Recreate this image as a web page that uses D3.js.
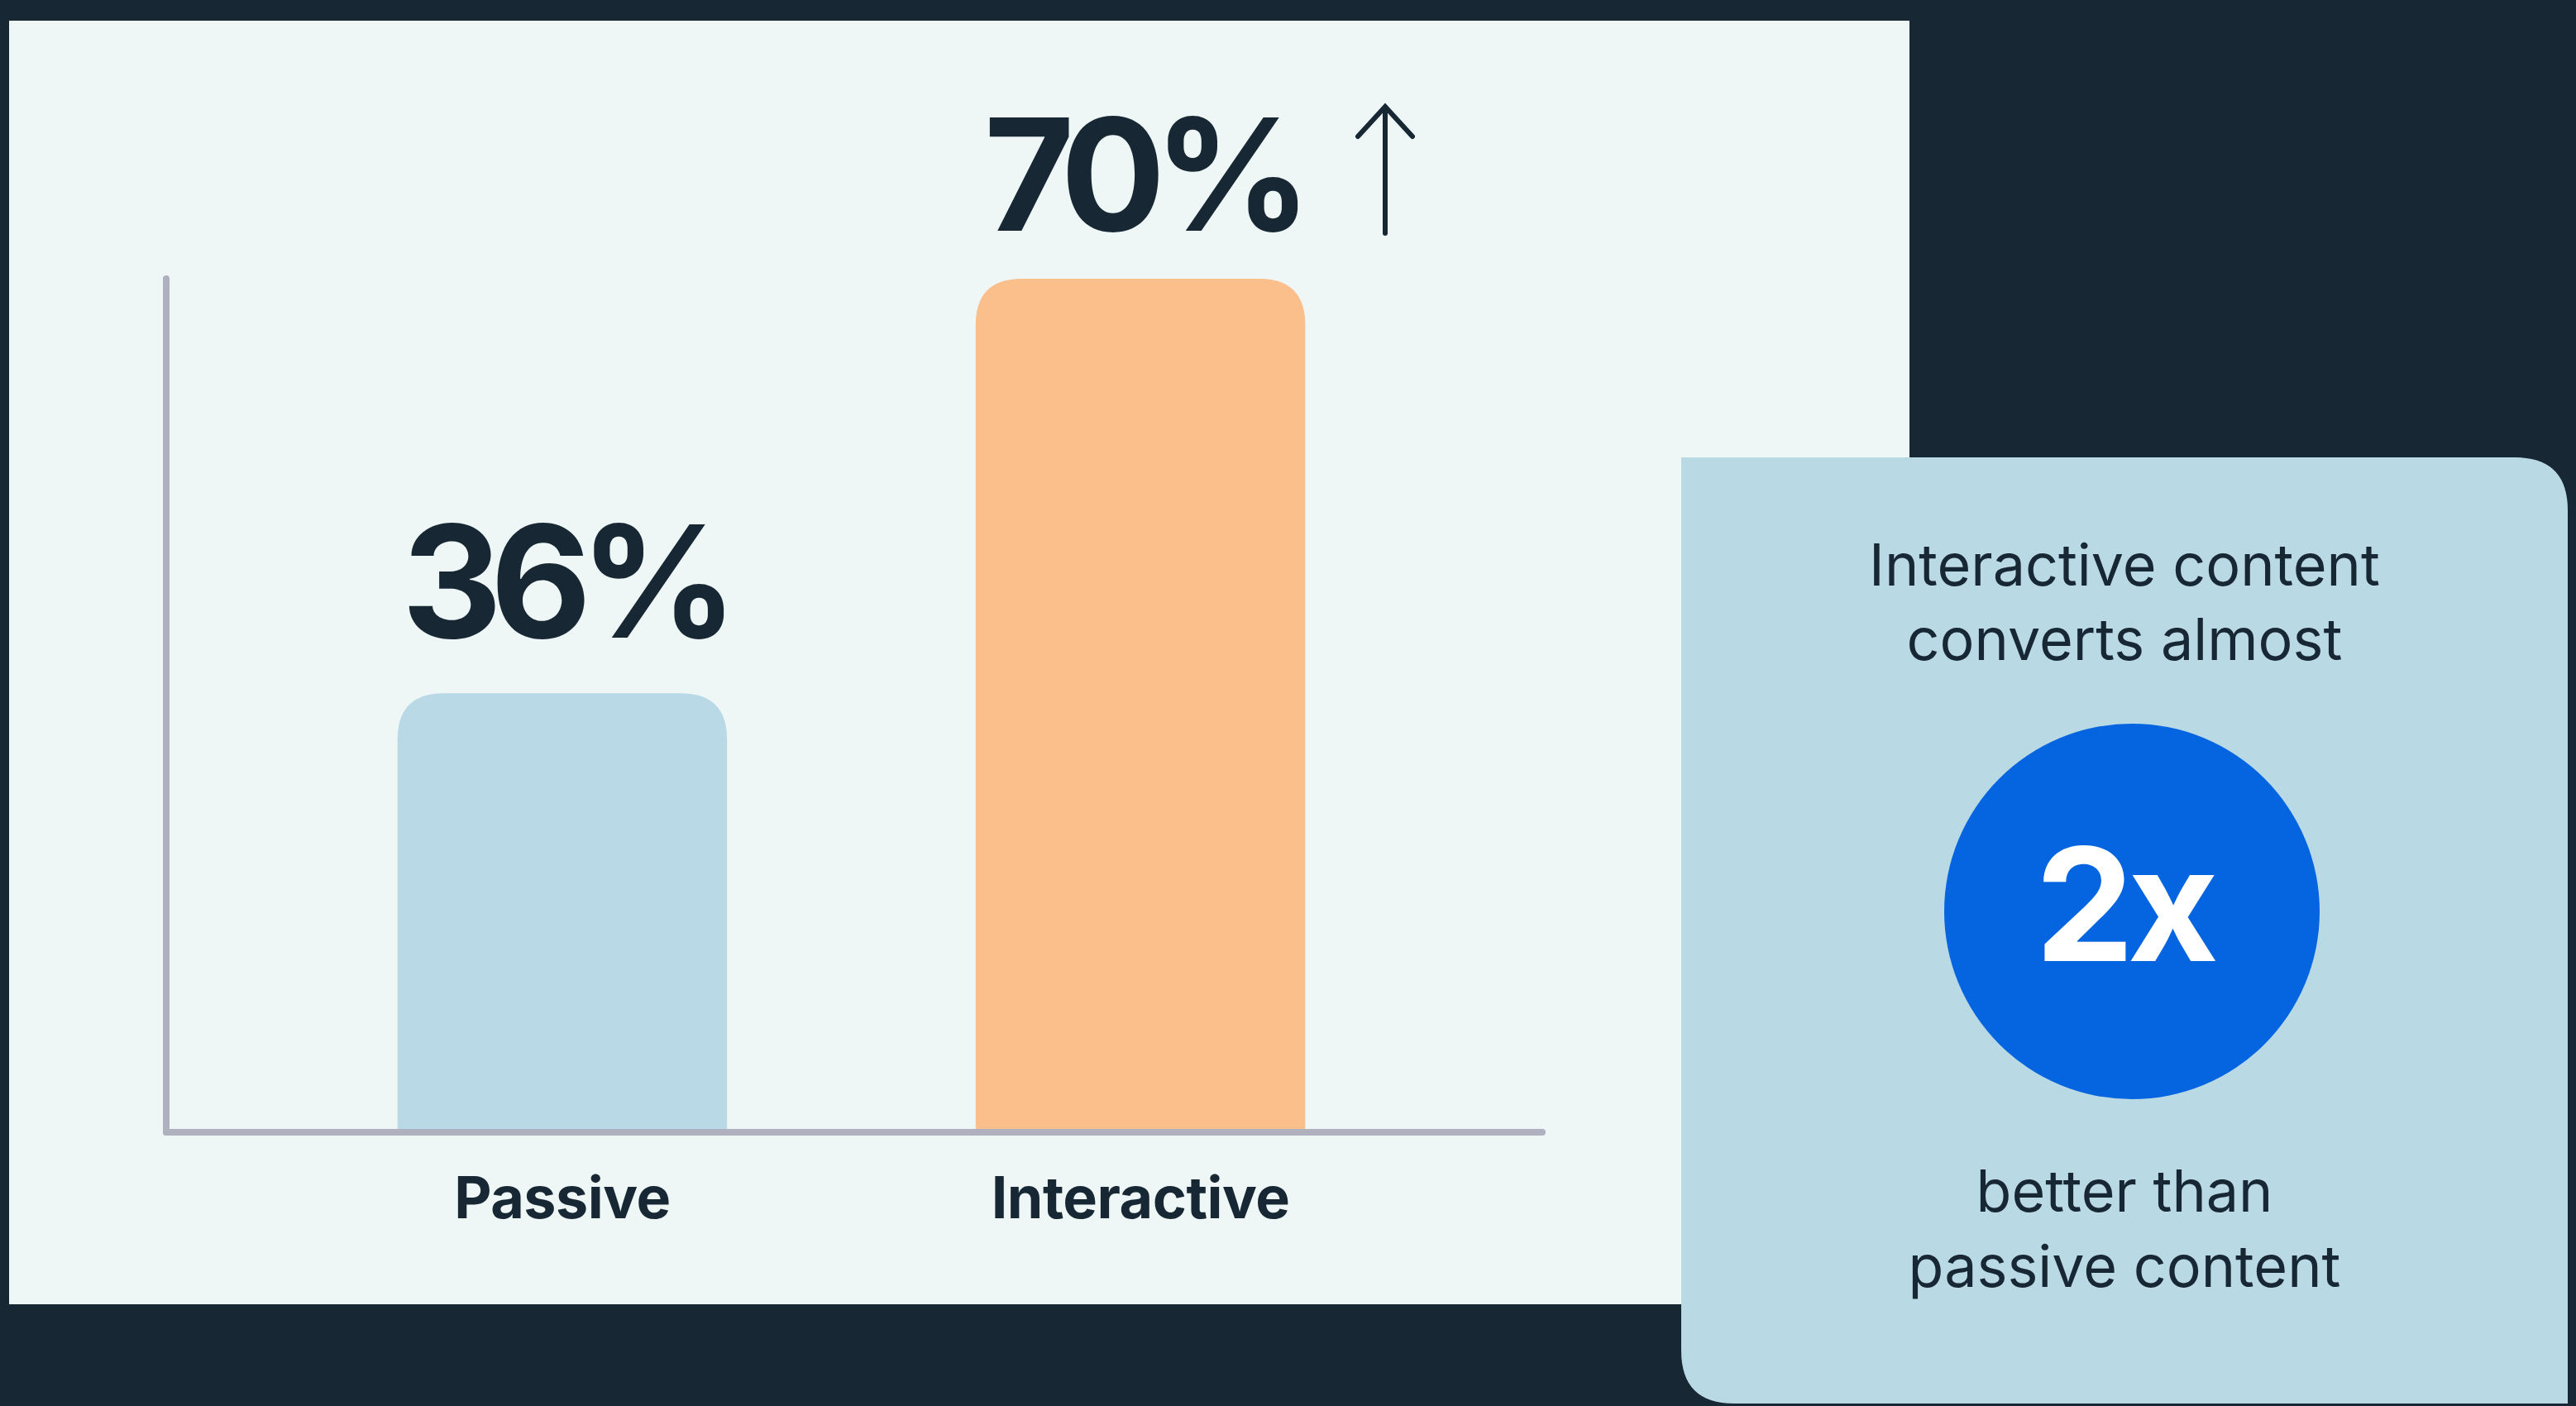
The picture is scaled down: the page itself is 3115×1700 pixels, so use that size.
<!DOCTYPE html>
<html>
<head>
<meta charset="utf-8">
<script src="https://cdn.jsdelivr.net/npm/d3@7.9.0/dist/d3.min.js"></script>
<style>
  html, body { margin: 0; padding: 0; background: #172733; }
  svg { display: block; font-family: Inter, "Noto Sans", sans-serif; }
</style>
</head>
<body>
<svg id="chart" width="3115" height="1700"></svg>
<script>
// chart data
const categories = ['Passive', 'Interactive'];
const values = [36, 70];
const barColors = ['#b9d9e6', '#fabf8b'];
const valueLabels = ['36%', '70%'];

// callout text
const calloutTop = ['Interactive content', 'converts almost'];
const calloutBig = '2x';
const calloutBottom = ['better than', 'passive content'];

const dark = '#172733';
const svg = d3.select('#chart');

// light panel behind the bars
svg.append('rect')
  .attr('x', 11).attr('y', 25)
  .attr('width', 2298).attr('height', 1552)
  .attr('fill', '#eef7f6');

// scales
const x = d3.scaleBand()
  .domain(categories)
  .range([201, 1858])
  .paddingInner(0.43)
  .paddingOuter(0.4);

const y = d3.scaleLinear()
  .domain([0, 70])
  .range([1369, 337]);

// bar with rounded top corners
function topRounded(x0, y0, w, h, r) {
  return `M${x0},${y0 + h}V${y0 + r}Q${x0},${y0} ${x0 + r},${y0}` +
    `H${x0 + w - r}Q${x0 + w},${y0} ${x0 + w},${y0 + r}V${y0 + h}Z`;
}

const bars = categories.map((c, i) => ({ cat: c, value: values[i], color: barColors[i], label: valueLabels[i] }));

svg.selectAll('path.bar')
  .data(bars)
  .join('path')
  .attr('class', 'bar')
  .attr('d', d => topRounded(x(d.cat), y(d.value), x.bandwidth(), y(0) - y(d.value), 56))
  .attr('fill', d => d.color);

// axes (plain lines, no ticks)
svg.append('line')
  .attr('x1', 201).attr('x2', 201)
  .attr('y1', 337).attr('y2', y(0))
  .attr('stroke', '#b0b1be').attr('stroke-width', 8).attr('stroke-linecap', 'round');
svg.append('line')
  .attr('x1', 201).attr('x2', 1865)
  .attr('y1', y(0)).attr('y2', y(0))
  .attr('stroke', '#b0b1be').attr('stroke-width', 8).attr('stroke-linecap', 'round');

// value labels (tighter tracking than default)
svg.selectAll('text.value')
  .data(bars)
  .join('text')
  .attr('class', 'value')
  .attr('x', d => x(d.cat) + x.bandwidth() / 2 + 2)
  .attr('y', (d, i) => y(d.value) - (i === 0 ? 67 : 58))
  .attr('text-anchor', 'middle')
  .attr('font-size', 188)
  .attr('font-weight', 700)
  .attr('letter-spacing', -14)
  .attr('fill', dark)
  .text(d => d.label);

// category labels
svg.selectAll('text.cat')
  .data(bars)
  .join('text')
  .attr('class', 'cat')
  .attr('x', d => x(d.cat) + x.bandwidth() / 2)
  .attr('y', 1473)
  .attr('text-anchor', 'middle')
  .attr('font-size', 70)
  .attr('font-weight', 700)
  .attr('letter-spacing', -0.5)
  .attr('fill', dark)
  .text(d => d.cat);

// up arrow next to the higher value
const ax = 1675;
svg.append('path')
  .attr('d', `M${ax},282V130M${ax - 33},165L${ax},129L${ax + 33},165`)
  .attr('fill', 'none')
  .attr('stroke', dark)
  .attr('stroke-width', 6)
  .attr('stroke-linecap', 'round');

// callout card: square top-left / bottom-right, rounded top-right / bottom-left
const cx0 = 2033, cy0 = 553, cx1 = 3105, cy1 = 1697, cr = 64;
svg.append('path')
  .attr('d', `M${cx0},${cy0}H${cx1 - cr}Q${cx1},${cy0} ${cx1},${cy0 + cr}V${cy1}` +
    `H${cx0 + cr}Q${cx0},${cy1} ${cx0},${cy1 - cr}Z`)
  .attr('fill', '#b9d9e5');

const mid = (cx0 + cx1) / 2;

svg.selectAll('text.top')
  .data(calloutTop)
  .join('text')
  .attr('class', 'top')
  .attr('x', mid)
  .attr('y', (d, i) => 708 + i * 90)
  .attr('text-anchor', 'middle')
  .attr('font-size', 70)
  .attr('font-weight', 400)
  .attr('fill', dark)
  .text(d => d);

svg.append('circle')
  .attr('cx', 2578).attr('cy', 1102).attr('r', 227)
  .attr('fill', '#0565e1');

svg.append('text')
  .attr('x', 2568).attr('y', 1162)
  .attr('text-anchor', 'middle')
  .attr('font-size', 190)
  .attr('font-weight', 700)
  .attr('letter-spacing', -8)
  .attr('fill', '#ffffff')
  .text(calloutBig);

svg.selectAll('text.bottom')
  .data(calloutBottom)
  .join('text')
  .attr('class', 'bottom')
  .attr('x', mid)
  .attr('y', (d, i) => 1465 + i * 91)
  .attr('text-anchor', 'middle')
  .attr('font-size', 70)
  .attr('font-weight', 400)
  .attr('fill', dark)
  .text(d => d);
</script>
</body>
</html>
